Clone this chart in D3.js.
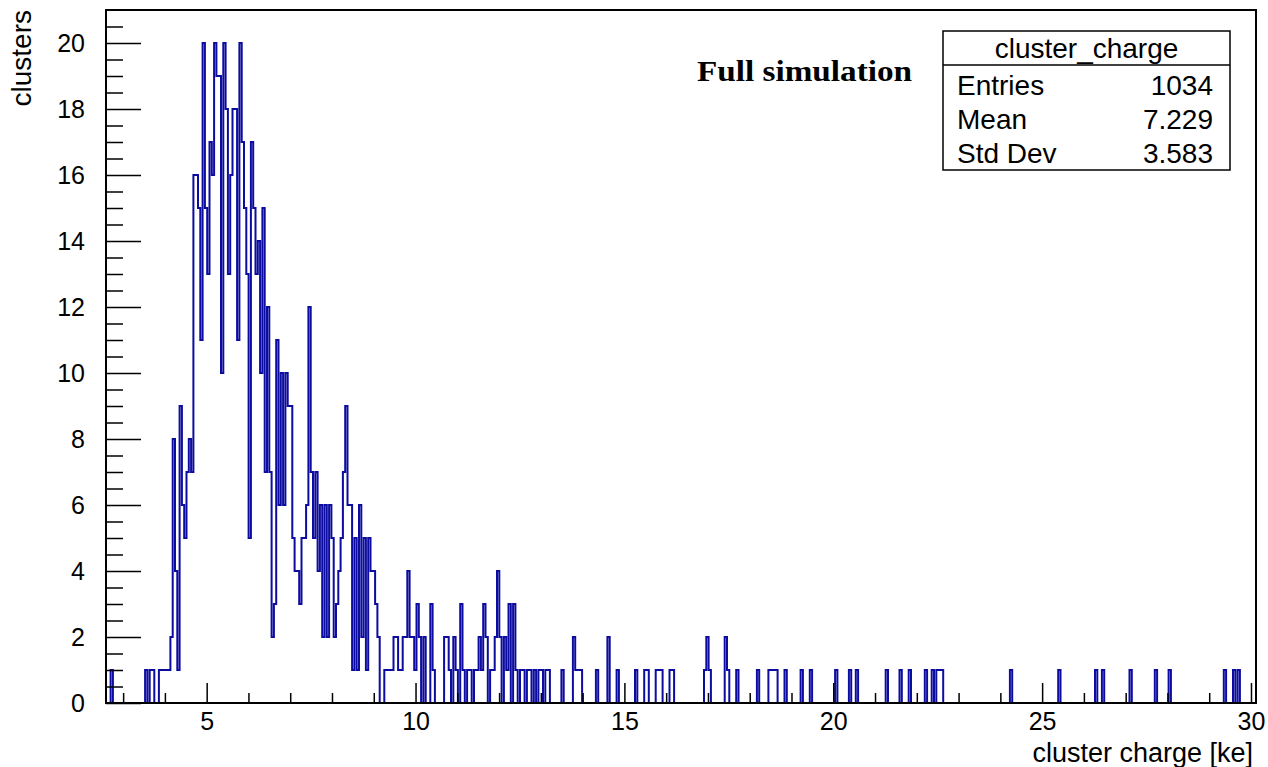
<!DOCTYPE html>
<html>
<head>
<meta charset="utf-8">
<script src="https://cdn.jsdelivr.net/npm/d3@7"></script>
<style>
  body { margin: 0; background: #fff; }
  svg { display: block; font-family: "Liberation Sans", Arial, sans-serif; }
</style>
</head>
<body>
<svg id="chart"></svg>
<script>
// Histogram range
const binLow = 2.59;
const binHigh = 30.12;

// Bin contents (clusters per bin), left to right
const counts = [
  0,0,1,0,0,0,0,0,0,0, 0,0,0,0,0,0,0,1,0,1,
  1,0,0,1,1,1,1,1,2,8, 4,1,9,6,5,7,8,7,16,16,
  15,11,20,15,13,17,16,20,19,19, 10,20,18,13,16,18,18,11,20,17,
  15,13,5,17,15,13,14,10,15,7, 12,7,2,3,11,6,10,6,10,9,
  9,5,4,4,3,5,5,6,12,7, 5,7,4,6,2,6,2,6,5,2,
  3,4,5,7,9,6,6,1,5,1, 6,2,5,1,5,4,4,3,2,0,
  0,1,1,1,1,2,2,1,1,2, 2,4,2,2,1,3,2,0,2,0,
  0,3,1,0,0,0,0,2,2,1, 0,2,1,0,3,1,0,1,1,0,
  1,1,2,1,3,2,0,1,1,2, 4,2,0,2,1,3,0,3,1,0,
  1,1,0,1,1,0,1,0,1,1, 0,1,1,0,0,0,0,0,1,0,
  0,0,0,2,1,1,1,0,0,0, 0,0,0,1,0,0,0,0,2,0,
  0,0,1,0,0,0,0,0,0,0, 1,0,0,0,1,1,0,0,0,1,
  1,1,0,0,0,1,1,0,0,0, 0,0,0,0,0,0,0,0,0,0,
  1,2,1,0,0,0,0,0,0,2, 1,0,0,0,1,0,0,0,0,0,
  0,0,0,1,0,0,0,0,1,1, 1,1,0,0,0,1,0,0,0,0,
  0,0,1,0,0,0,1,0,0,0, 0,0,0,0,0,0,0,1,0,0,
  0,0,0,1,0,0,1,0,0,0, 0,0,0,0,0,0,0,0,0,1,
  0,0,0,0,0,1,0,0,0,1, 0,0,0,0,0,0,1,0,0,1,
  0,1,1,1,0,0,0,0,0,0, 0,0,0,0,0,0,0,0,0,0,
  0,0,0,0,0,0,0,0,0,0, 0,0,0,1,0,0,0,0,0,0,
  0,0,0,0,0,0,0,0,0,0, 0,0,0,0,1,0,0,0,0,0,
  0,0,0,0,0,0,0,0,0,0, 1,0,0,1,0,0,0,0,0,0,
  0,0,0,0,0,1,0,0,0,0, 0,0,0,0,0,0,1,0,0,0,
  0,0,1,0,0,0,0,0,0,0, 0,0,0,0,0,0,0,0,0,0,
  0,0,0,0,0,0,1,0,0,0, 1,0,1,0,0,0,0,0,0,0
];

// Axis ticks
const xMajorTicks = [5, 10, 15, 20, 25, 30];
const xMinorTicks = [3, 4, 6, 7, 8, 9, 11, 12, 13, 14, 16, 17, 18, 19, 21, 22, 23, 24, 26, 27, 28, 29];
const yMajorTicks = [0, 2, 4, 6, 8, 10, 12, 14, 16, 18, 20];
const yMinorTicks = [0.5, 1, 1.5, 2.5, 3, 3.5, 4.5, 5, 5.5, 6.5, 7, 7.5, 8.5, 9, 9.5,
  10.5, 11, 11.5, 12.5, 13, 13.5, 14.5, 15, 15.5, 16.5, 17, 17.5, 18.5, 19, 19.5, 20.5];
const yMax = 21;

// Stats box
const statsTitle = "cluster_charge";
const statsLabels = ["Entries", "Mean", "Std Dev"];
const statsValues = ["1034", "7.229", "3.583"];

const config = {
  width: 1268,
  height: 767,
  margin: { top: 10, right: 12, bottom: 64, left: 106 },
  lineColor: "#0c0ca0",
};

const width = config.width - config.margin.left - config.margin.right;
const height = config.height - config.margin.top - config.margin.bottom;

const svg = d3.select("#chart")
  .attr("width", config.width)
  .attr("height", config.height);

const chart = svg.append("g")
  .attr("transform", `translate(${config.margin.left},${config.margin.top})`);

// Scales
const xScale = d3.scaleLinear().domain([binLow, binHigh]).range([0, width]);
const yScale = d3.scaleLinear().domain([0, yMax]).range([height, 0]);
const binWidth = (binHigh - binLow) / counts.length;

// Histogram outline (step line)
const points = counts.map((c, i) => [binLow + i * binWidth, c]);
points.push([binHigh, counts[counts.length - 1]]);

chart.append("clipPath").attr("id", "frameClip")
  .append("rect").attr("width", width).attr("height", height + 1);

const line = d3.line()
  .x(d => xScale(d[0]))
  .y(d => yScale(d[1]))
  .curve(d3.curveStepAfter);

chart.append("path")
  .datum(points)
  .attr("clip-path", "url(#frameClip)")
  .attr("d", line)
  .attr("fill", "none")
  .attr("stroke", config.lineColor)
  .attr("stroke-width", 2);

// X axis: minor and major ticks drawn inward
const xMinor = d3.axisBottom(xScale).tickValues(xMinorTicks).tickSizeInner(-10).tickSizeOuter(0).tickFormat("");
const xMajor = d3.axisBottom(xScale).tickValues(xMajorTicks).tickSizeInner(-20).tickSizeOuter(0).tickPadding(9);

chart.append("g").attr("transform", `translate(0,${height})`).call(xMinor);
const xAxisG = chart.append("g").attr("transform", `translate(0,${height})`).call(xMajor);
xAxisG.selectAll("text").style("font-size", "25px").attr("fill", "#000");

// Y axis
const yMinor = d3.axisLeft(yScale).tickValues(yMinorTicks).tickSizeInner(-17).tickSizeOuter(0).tickFormat("");
const yMajor = d3.axisLeft(yScale).tickValues(yMajorTicks).tickSizeInner(-35).tickSizeOuter(0).tickPadding(21);

chart.append("g").call(yMinor);
const yAxisG = chart.append("g").call(yMajor);
yAxisG.selectAll("text").style("font-size", "25px").attr("fill", "#000");

chart.selectAll(".domain").remove();
chart.selectAll(".tick line").attr("stroke", "#000").attr("stroke-width", 1.5);

// Frame
chart.append("rect")
  .attr("width", width)
  .attr("height", height)
  .attr("fill", "none")
  .attr("stroke", "#000")
  .attr("stroke-width", 2);

// Axis titles
svg.append("text")
  .attr("x", config.width - 15)
  .attr("y", 762)
  .attr("text-anchor", "end")
  .style("font-size", "27px")
  .text("cluster charge [ke]");

svg.append("text")
  .attr("transform", "translate(31,10) rotate(-90)")
  .attr("text-anchor", "end")
  .style("font-size", "28px")
  .text("clusters");

// Label
svg.append("text")
  .attr("x", 697)
  .attr("y", 81)
  .attr("textLength", 215)
  .attr("lengthAdjust", "spacingAndGlyphs")
  .style("font-family", "'Liberation Serif', 'DejaVu Serif', serif")
  .style("font-weight", "bold")
  .style("font-size", "30px")
  .text("Full simulation");

// Stats box
const box = svg.append("g").attr("transform", "translate(943,31)");
const boxW = 287, boxH = 139, headH = 34, rowH = 34;

box.append("rect")
  .attr("width", boxW).attr("height", boxH)
  .attr("fill", "#fff").attr("stroke", "#000").attr("stroke-width", 1.5);

box.append("line")
  .attr("x1", 0).attr("x2", boxW).attr("y1", headH).attr("y2", headH)
  .attr("stroke", "#000").attr("stroke-width", 1.5);

box.append("text")
  .attr("x", boxW / 2).attr("y", 27)
  .attr("text-anchor", "middle")
  .style("font-size", "28px")
  .text(statsTitle);

statsLabels.forEach((label, i) => {
  const y = headH + 30 + i * rowH;
  box.append("text").attr("x", 14).attr("y", y).style("font-size", "28px").text(label);
  box.append("text").attr("x", boxW - 17).attr("y", y)
    .attr("text-anchor", "end").style("font-size", "28px").text(statsValues[i]);
});
</script>
</body>
</html>
